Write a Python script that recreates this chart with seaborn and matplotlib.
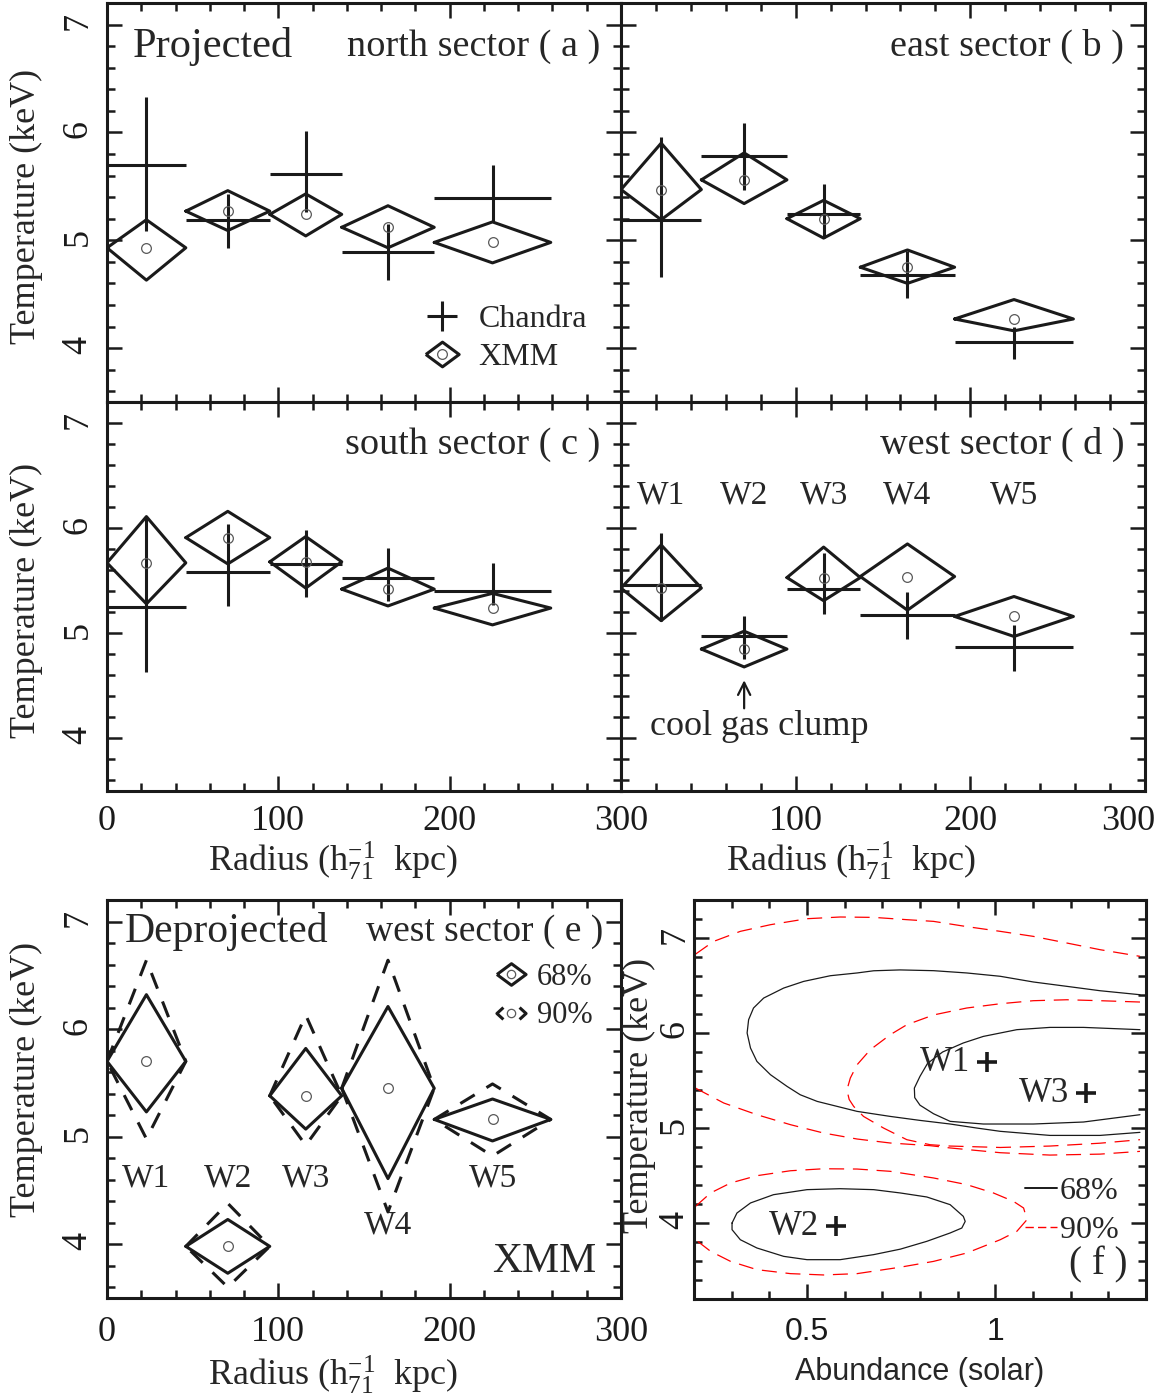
#%% import tools and libraries
import numpy as np
import pandas as pd
import seaborn as sns
import matplotlib.pyplot as plt
from matplotlib.lines import Line2D
from matplotlib.path import Path
from matplotlib.legend_handler import HandlerTuple
from matplotlib.ticker import MultipleLocator
from matplotlib.transforms import ScaledTranslation

#%% radial bins (h71^-1 kpc), same for all sectors
r_lo = [0, 46, 95, 137, 191]
r_hi = [46, 95, 137, 191, 259]
r_mid = [23, 70.5, 116, 164, 225]
ring_names = ['W1', 'W2', 'W3', 'W4', 'W5']

#%% projected temperatures (keV): best fit, upper and lower bound
north_chandra = [5.70, 5.19, 5.61, 4.89, 5.39]
north_chandra_hi = [6.33, 5.43, 6.01, 5.15, 5.70]
north_chandra_lo = [5.09, 4.93, 5.26, 4.63, 5.17]
north_xmm = [4.93, 5.27, 5.24, 5.12, 4.98]
north_xmm_hi = [5.19, 5.46, 5.43, 5.32, 5.17]
north_xmm_lo = [4.63, 5.09, 5.04, 4.93, 4.79]

east_chandra = [5.19, 5.78, 5.24, 4.68, 4.06]
east_chandra_hi = [5.96, 6.09, 5.52, 4.90, 4.20]
east_chandra_lo = [4.66, 5.47, 5.02, 4.46, 3.90]
east_xmm = [5.47, 5.56, 5.20, 4.75, 4.27]
east_xmm_hi = [5.90, 5.81, 5.37, 4.91, 4.45]
east_xmm_lo = [5.19, 5.34, 5.02, 4.60, 4.16]

south_chandra = [5.25, 5.58, 5.66, 5.53, 5.40]
south_chandra_hi = [6.11, 6.04, 5.98, 5.81, 5.67]
south_chandra_lo = [4.63, 5.26, 5.35, 5.31, 5.27]
south_xmm = [5.67, 5.91, 5.68, 5.42, 5.24]
south_xmm_hi = [6.11, 6.16, 5.92, 5.62, 5.38]
south_xmm_lo = [5.28, 5.66, 5.43, 5.26, 5.08]

west_chandra = [5.46, 4.97, 5.42, 5.17, 4.87]
west_chandra_hi = [5.95, 5.16, 5.76, 5.39, 5.08]
west_chandra_lo = [5.12, 4.76, 5.18, 4.95, 4.64]
west_xmm = [5.43, 4.85, 5.53, 5.54, 5.16]
west_xmm_hi = [5.84, 5.02, 5.82, 5.85, 5.35]
west_xmm_lo = [5.12, 4.68, 5.31, 5.22, 4.97]
west_label_T = [6.31, 6.31, 6.31, 6.31, 6.31]

#%% deprojected west sector (XMM), 68% and 90% ranges
deproj = [5.70, 3.98, 5.38, 5.45, 5.16]
deproj_hi68 = [6.32, 4.23, 5.82, 6.21, 5.35]
deproj_lo68 = [5.23, 3.73, 5.07, 4.61, 4.96]
deproj_hi90 = [6.64, 4.38, 6.13, 6.64, 5.49]
deproj_lo90 = [4.98, 3.60, 4.92, 4.30, 4.82]
deproj_label_T = [4.61, 4.61, 4.61, 4.18, 4.61]

#%% abundance - temperature confidence contours
w1_68_ab = [1.384, 1.278, 1.19, 1.101, 1.013, 0.924, 0.836, 0.747, 0.677, 0.633, 0.562, 0.491,
            0.438, 0.385, 0.358, 0.345, 0.341, 0.350, 0.367, 0.403, 0.447, 0.482, 0.527, 0.633,
            0.721, 0.80, 0.880, 0.95, 1.013, 1.145, 1.278, 1.384]
w1_68_T = [6.403, 6.445, 6.491, 6.537, 6.597, 6.632, 6.656, 6.664, 6.655, 6.632, 6.603, 6.543,
           6.473, 6.368, 6.263, 6.14, 6.0, 5.842, 5.701, 5.561, 5.438, 5.35, 5.28, 5.175,
           5.122, 5.08, 5.042, 5.0, 4.965, 4.922, 4.922, 4.954]
w1_90_top_ab = [0.204, 0.252, 0.323, 0.403, 0.5, 0.588, 0.677, 0.765, 0.836, 0.924, 1.013,
                1.101, 1.19, 1.278, 1.384]
w1_90_top_T = [6.83, 6.964, 7.07, 7.14, 7.203, 7.221, 7.217, 7.193, 7.175, 7.12, 7.07,
               7.017, 6.947, 6.877, 6.807]
w1_90_bot_ab = [0.204, 0.279, 0.367, 0.456, 0.544, 0.633, 0.721, 0.827, 0.88, 1.013, 1.145,
                1.278, 1.384]
w1_90_bot_T = [5.42, 5.263, 5.14, 5.035, 4.947, 4.884, 4.842, 4.814, 4.79, 4.74, 4.715,
               4.725, 4.754]
w3_68_ab = [1.384, 1.322, 1.234, 1.145, 1.057, 0.968, 0.915, 0.86, 0.82, 0.80, 0.785, 0.786,
            0.80, 0.836, 0.88, 0.968, 1.101, 1.234, 1.384]
w3_68_T = [6.035, 6.045, 6.059, 6.059, 6.035, 5.964, 5.895, 5.80, 5.68, 5.544, 5.42, 5.32,
           5.24, 5.15, 5.07, 5.042, 5.042, 5.063, 5.14]
w3_90_ab = [1.384, 1.278, 1.19, 1.101, 1.013, 0.924, 0.836, 0.765, 0.721, 0.668, 0.633, 0.615,
            0.606, 0.612, 0.624, 0.650, 0.703, 0.765, 0.827, 0.88, 1.013, 1.145, 1.278, 1.384]
w3_90_T = [6.326, 6.34, 6.35, 6.34, 6.308, 6.263, 6.19, 6.087, 5.982, 5.824, 5.666, 5.526,
           5.40, 5.30, 5.227, 5.122, 5.0, 4.877, 4.824, 4.81, 4.795, 4.81, 4.84, 4.877]
w2_68_ab = [0.301, 0.314, 0.350, 0.411, 0.5, 0.588, 0.677, 0.748, 0.818, 0.880, 0.915, 0.920,
            0.911, 0.880, 0.818, 0.748, 0.677, 0.588, 0.5, 0.438, 0.367, 0.323, 0.301, 0.301]
w2_68_T = [4.0, 4.105, 4.211, 4.298, 4.351, 4.361, 4.351, 4.316, 4.274, 4.193, 4.07, 4.017,
           3.947, 3.895, 3.807, 3.725, 3.667, 3.614, 3.614, 3.649, 3.737, 3.824, 3.93, 4.0]
w2_90_ab = [0.204, 0.244, 0.297, 0.367, 0.456, 0.544, 0.633, 0.721, 0.836, 0.924, 0.995, 1.048,
            1.075, 1.084, 1.057, 1.013, 0.924, 0.836, 0.748, 0.633, 0.544, 0.456, 0.367, 0.297,
            0.244, 0.204]
w2_90_T = [4.175, 4.316, 4.421, 4.498, 4.55, 4.571, 4.568, 4.544, 4.474, 4.404, 4.316, 4.228,
           4.158, 4.035, 3.912, 3.824, 3.684, 3.596, 3.535, 3.467, 3.453, 3.467, 3.509, 3.596,
           3.702, 3.824]
fit_names = ['W1', 'W2', 'W3']
fit_abund = [0.977, 0.576, 1.241]
fit_temp = [5.69, 3.964, 5.368]

#%% style
sns.set_theme(style='ticks')
plt.rcParams['font.family'] = ['Liberation Serif', 'DejaVu Serif']
plt.rcParams['mathtext.fontset'] = 'custom'
plt.rcParams['mathtext.rm'] = 'Liberation Serif'
plt.rcParams['mathtext.it'] = 'Liberation Serif:italic'
plt.rcParams['axes.unicode_minus'] = True

W, H = 1161, 1397
fig = plt.figure(figsize=(W / 100, H / 100), dpi=100)


def px_axes(x0, y0, x1, y1):
    return fig.add_axes([x0 / W, 1 - y1 / H, (x1 - x0) / W, (y1 - y0) / H])


def style_axes(ax, xlim, ylim, xmaj, xmin, ymaj=1, ymin=0.2):
    ax.set_xlim(*xlim)
    ax.set_ylim(*ylim)
    ax.xaxis.set_major_locator(MultipleLocator(xmaj))
    ax.xaxis.set_minor_locator(MultipleLocator(xmin))
    ax.yaxis.set_major_locator(MultipleLocator(ymaj))
    ax.yaxis.set_minor_locator(MultipleLocator(ymin))
    ax.tick_params(which='both', direction='in', top=True, right=True, width=1.8,
                   color='k', labelsize=26, labelcolor='k')
    ax.tick_params(which='major', length=11)
    ax.tick_params(which='minor', length=6)
    ax.tick_params(axis='y', labelrotation=90, pad=9)
    ax.tick_params(axis='x', pad=10)
    for s in ax.spines.values():
        s.set_linewidth(2.2)
        s.set_color('k')
    ax.set_xlabel('')
    ax.set_ylabel('')


def diamond_frame(t, hi, lo):
    rows = []
    for i in range(len(t)):
        xs = [r_lo[i], r_mid[i], r_hi[i], r_mid[i], r_lo[i]]
        ys = [t[i], hi[i], t[i], lo[i], t[i]]
        rows += [{'ring': i, 'r': x, 'T': y} for x, y in zip(xs, ys)]
    return pd.DataFrame(rows)


def draw_xmm(ax, t, hi, lo, **kw):
    sns.lineplot(data=diamond_frame(t, hi, lo), x='r', y='T', units='ring',
                 estimator=None, sort=False, color='k', lw=2.2, ax=ax, **kw)


def draw_centres(ax, t):
    ax.plot(r_mid, t, 'o', ms=7, mfc='none', mec='0.35', mew=0.9)


def draw_chandra(ax, t, hi, lo):
    t = np.array(t)
    ax.errorbar(r_mid, t, yerr=[t - np.array(lo), np.array(hi) - t],
                xerr=[np.array(r_mid) - np.array(r_lo), np.array(r_hi) - np.array(r_mid)],
                fmt='none', ecolor='k', elinewidth=2.2, capsize=0)


def shift_label(lab, dx, dy):
    lab.set_transform(lab.get_transform() + ScaledTranslation(dx / 100, dy / 100, fig.dpi_scale_trans))


ylab = 'Temperature (keV)'
xlab = r'Radius (h$_{71}^{-1}$  kpc)'
diamond_verts = [(-1.35, 0), (0, 1), (1.35, 0), (0, -1), (-1.35, 0)]
chevrons = Path([(-0.75, 0.55), (-1.35, 0), (-0.75, -0.55), (0.75, 0.55), (1.35, 0), (0.75, -0.55)],
                [Path.MOVETO, Path.LINETO, Path.LINETO, Path.MOVETO, Path.LINETO, Path.LINETO])
overlay = {tuple: HandlerTuple(ndivide=1)}

#%% projected panels a-d
panels = [
    ('a', (107, 3, 621, 402), north_chandra, north_chandra_hi, north_chandra_lo,
     north_xmm, north_xmm_hi, north_xmm_lo, 'north sector ( a )'),
    ('b', (621, 3, 1145, 402), east_chandra, east_chandra_hi, east_chandra_lo,
     east_xmm, east_xmm_hi, east_xmm_lo, 'east sector ( b )'),
    ('c', (107, 402, 621, 791), south_chandra, south_chandra_hi, south_chandra_lo,
     south_xmm, south_xmm_hi, south_xmm_lo, 'south sector ( c )'),
    ('d', (621, 402, 1145, 791), west_chandra, west_chandra_hi, west_chandra_lo,
     west_xmm, west_xmm_hi, west_xmm_lo, 'west sector ( d )'),
]
axes = {}
for key, box, ch, ch_hi, ch_lo, xm, xm_hi, xm_lo, title in panels:
    ax = px_axes(*box)
    axes[key] = ax
    draw_xmm(ax, xm, xm_hi, xm_lo)
    draw_chandra(ax, ch, ch_hi, ch_lo)
    draw_centres(ax, xm)
    style_axes(ax, (0, 300), (3.5, 7.2), 100, 20)
    ax.text(0.96, 0.89, title, transform=ax.transAxes, ha='right', va='center', fontsize=27.5)
    if key in 'ab':
        ax.tick_params(axis='x', labelbottom=False)
    if key in 'bd':
        ax.tick_params(axis='y', labelleft=False)
    else:
        ax.set_ylabel(ylab, fontsize=26)
        ax.yaxis.set_label_coords(-0.125, 0.49)
    if key in 'cd':
        ax.set_xlabel(xlab, fontsize=26)
        ax.xaxis.set_label_coords(0.44, -0.125)

axes['a'].text(0.05, 0.89, 'Projected', transform=axes['a'].transAxes, ha='left',
               va='center', fontsize=30.5)
h_ch = Line2D([], [], ls='none', marker='+', ms=22, mew=2.2, color='k')
h_dia = Line2D([], [], ls='none', marker=diamond_verts, ms=24, mew=2.2, mec='k', mfc='none')
h_circ = Line2D([], [], ls='none', marker='o', ms=7, mec='0.35', mfc='none', mew=0.9)
axes['a'].legend([h_ch, (h_dia, h_circ)], ['Chandra', 'XMM'], handler_map=overlay,
                 loc='center left', bbox_to_anchor=(0.58, 0.16), frameon=False, fontsize=23,
                 borderpad=0, handlelength=1.3, handletextpad=0.5, labelspacing=0.28)

axd = axes['d']
for name, x, y in zip(ring_names, r_mid, west_label_T):
    axd.text(x, y, name, ha='center', va='center', fontsize=24)
axd.annotate('', xy=(r_mid[1], 4.58), xytext=(r_mid[1], 4.26),
             arrowprops=dict(arrowstyle='->', lw=1.6, color='k', mutation_scale=22))
axd.text(16.6, 4.11, 'cool gas clump', ha='left', va='center', fontsize=26)
axd.set_xticks([0, 100, 200, 300])
axd.set_xticklabels(['', '100', '200', '300'])
shift_label(axd.get_xticklabels()[-1], -17, 0)

#%% deprojected panel e
axe = px_axes(107, 900, 621, 1298)
draw_xmm(axe, deproj, deproj_hi90, deproj_lo90, linestyle=(0, (5.5, 4.5)))
draw_xmm(axe, deproj, deproj_hi68, deproj_lo68)
draw_centres(axe, deproj)
style_axes(axe, (0, 300), (3.5, 7.2), 100, 20)
axe.set_ylabel(ylab, fontsize=26)
axe.yaxis.set_label_coords(-0.125, 0.55)
axe.set_xlabel(xlab, fontsize=26)
axe.xaxis.set_label_coords(0.44, -0.14)
axe.tick_params(axis='x', pad=13)
shift_label(axe.get_xticklabels()[-1], -24, 8)
for name, x, y in zip(ring_names, r_mid, deproj_label_T):
    axe.text(x, y, name, ha='center', va='center', fontsize=24)
axe.text(0.035, 0.92, 'Deprojected', transform=axe.transAxes, ha='left', va='center', fontsize=30)
axe.text(0.965, 0.92, 'west sector ( e )', transform=axe.transAxes, ha='right', va='center',
         fontsize=27)
axe.text(0.953, 0.09, 'XMM', transform=axe.transAxes, ha='right', va='center', fontsize=30)
h_dia_s = Line2D([], [], ls='none', marker=diamond_verts, ms=21, mew=2.2, mec='k', mfc='none')
h_chev = Line2D([], [], ls='none', marker=chevrons, ms=21, mew=2.2, mec='k', mfc='none',
                fillstyle='none')
h_circ_s = Line2D([], [], ls='none', marker='o', ms=6, mec='0.35', mfc='none', mew=0.9)
axe.legend([(h_dia_s, h_circ_s), (h_chev, h_circ_s)], ['68%', '90%'], handler_map=overlay,
           loc='upper right', bbox_to_anchor=(0.975, 0.88), frameon=False, fontsize=22,
           borderpad=0, handlelength=1.3, handletextpad=0.2, labelspacing=0.3)

#%% abundance - temperature contours, panel f
axf = px_axes(694, 900, 1146, 1299)
solid = dict(estimator=None, sort=False, color='k', lw=0.9, ax=axf)
dashed = dict(estimator=None, sort=False, color='red', lw=0.9, ax=axf, linestyle=(0, (12, 7)))
sns.lineplot(x=w1_90_top_ab, y=w1_90_top_T, **dashed)
sns.lineplot(x=w1_90_bot_ab, y=w1_90_bot_T, **dashed)
sns.lineplot(x=w3_90_ab, y=w3_90_T, **dashed)
sns.lineplot(x=w2_90_ab, y=w2_90_T, **dashed)
sns.lineplot(x=w1_68_ab, y=w1_68_T, **solid)
sns.lineplot(x=w3_68_ab, y=w3_68_T, **solid)
sns.lineplot(x=w2_68_ab, y=w2_68_T, **solid)
axf.plot(fit_abund, fit_temp, '+', ms=14, mew=2.6, color='k')
for name, x, y in zip(fit_names, fit_abund, fit_temp):
    axf.annotate(name, (x, y), xytext=(-12, 0), textcoords='offset points', ha='right',
                 va='center', fontsize=25)
style_axes(axf, (0.2, 1.4), (3.2, 7.4), 0.5, 0.1)
axf.set_xticks([0.5, 1.0])
axf.set_xticklabels(['0.5', '1'], fontfamily='Liberation Sans', fontsize=23)
axf.tick_params(axis='x', pad=13)
axf.tick_params(axis='y', pad=2)
axf.set_xlabel('Abundance (solar)', fontfamily='Liberation Sans', fontsize=22)
axf.xaxis.set_label_coords(0.5, -0.145)
axf.set_ylabel(ylab, fontsize=26)
axf.yaxis.set_label_coords(-0.085, 0.51)
h68 = Line2D([], [], color='k', lw=1.4)
h90 = Line2D([], [], color='red', lw=1.0, linestyle=(0, (6, 3)))
axf.legend([h68, h90], ['68%', '90%'], loc='lower right', bbox_to_anchor=(0.975, 0.095),
           frameon=False, fontsize=23, borderpad=0, handlelength=1.0, handletextpad=0.1,
           labelspacing=0.3)
axf.text(0.96, 0.085, '( f )', transform=axf.transAxes, ha='right', va='center', fontsize=28)

fig.savefig('out.png', dpi=100)
